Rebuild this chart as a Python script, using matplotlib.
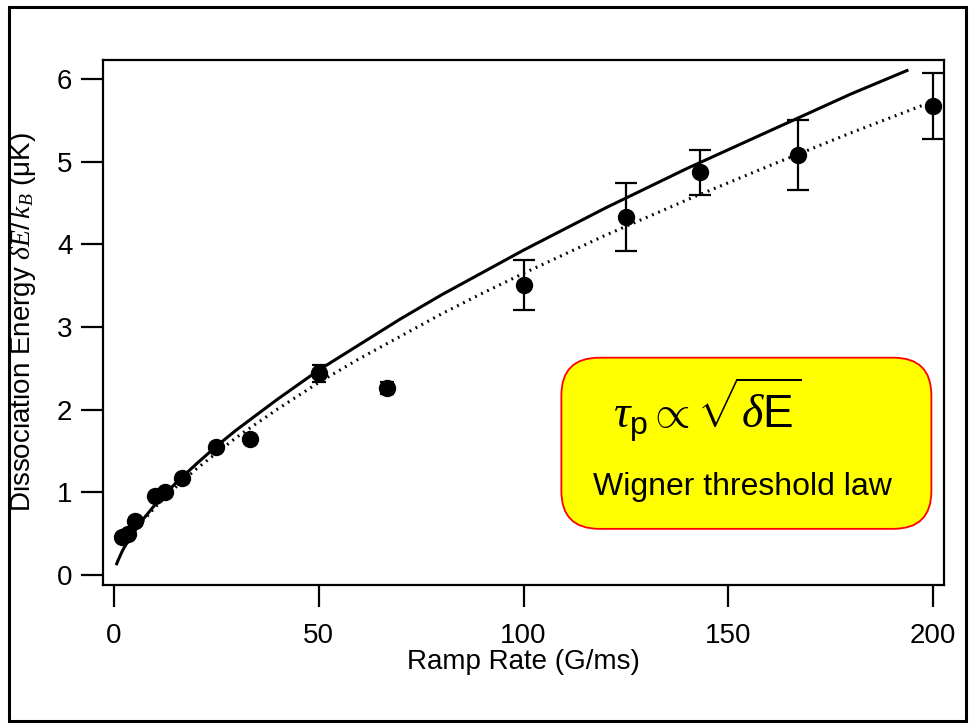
import matplotlib.pyplot as plt
from matplotlib.patches import FancyBboxPatch, Rectangle
import numpy as np

plt.rcParams['font.family'] = ['Liberation Sans', 'DejaVu Sans']
plt.rcParams['mathtext.fontset'] = 'custom'
plt.rcParams['mathtext.rm'] = 'Liberation Sans'
plt.rcParams['mathtext.sf'] = 'Liberation Sans'
plt.rcParams['mathtext.it'] = 'Liberation Serif:italic'
plt.rcParams['mathtext.bf'] = 'Liberation Sans:bold'

# measured dissociation energies
ramp = [2.0, 3.3, 5.0, 10.0, 12.5, 16.7, 25.0, 33.3, 50.0, 66.7, 100.0, 125.0, 143.0, 167.0, 200.0]
energy = [0.46, 0.50, 0.66, 0.96, 1.01, 1.18, 1.55, 1.65, 2.44, 2.26, 3.51, 4.33, 4.87, 5.08, 5.67]
err = [0.0, 0.0, 0.0, 0.0, 0.0, 0.0, 0.03, 0.03, 0.10, 0.07, 0.30, 0.41, 0.27, 0.42, 0.40]

# solid curve
solid_x = [0.5, 1, 2, 3, 5, 7, 10, 15, 20, 25, 30, 40, 50, 60, 70, 80, 90, 100, 120, 140, 160, 180, 194]
solid_y = [0.12, 0.18, 0.29, 0.38, 0.53, 0.67, 0.85, 1.11, 1.34, 1.56, 1.76, 2.13, 2.48, 2.79, 3.10, 3.39,
           3.66, 3.93, 4.44, 4.92, 5.37, 5.82, 6.11]

# dotted curve
dot_x = [7, 10, 15, 20, 30, 40, 50, 60, 70, 80, 90, 100, 120, 140, 160, 180, 200]
dot_y = [0.65, 0.82, 1.06, 1.28, 1.67, 2.01, 2.33, 2.62, 2.89, 3.16, 3.41, 3.65, 4.11, 4.54, 4.95, 5.35, 5.73]

fig = plt.figure(figsize=(9.69, 7.25), dpi=100)
ax = fig.add_axes([0.1063, 0.1931, 0.8679, 0.7241])

ax.plot(solid_x, solid_y, color='black', lw=2.2, solid_capstyle='butt', solid_joinstyle='round')
ax.plot(dot_x, dot_y, color='black', lw=2.2, linestyle=(0, (0.6, 1.6)))

ramp = np.array(ramp)
energy = np.array(energy)
err = np.array(err)
big = err > 0.2
ax.plot(ramp, energy, 'o', color='black', ms=11.5, zorder=5)
ax.errorbar(ramp[big], energy[big], yerr=err[big], fmt='none', ecolor='black',
            elinewidth=1.6, capsize=8, capthick=1.6, zorder=4)
ax.errorbar(ramp[~big], energy[~big], yerr=err[~big], fmt='none', ecolor='black',
            elinewidth=1.6, capsize=5, capthick=1.6, zorder=4)

ax.set_xlim(-2.7, 202.7)
ax.set_ylim(-0.12, 6.23)
ax.set_xticks([0, 50, 100, 150, 200])
ax.set_yticks([0, 1, 2, 3, 4, 5, 6])
ax.tick_params(axis='both', direction='out', length=16, width=1.6, labelsize=20)
ax.tick_params(axis='x', pad=11)
ax.tick_params(axis='y', pad=6)
for s in ax.spines.values():
    s.set_linewidth(1.6)

ax.set_xlabel('Ramp Rate (G/ms)', fontsize=20, labelpad=0)
ax.set_ylabel(r'Dissociation Energy $\delta E/\,k_B$ ($\mathrm{\mu}$K)', fontsize=20, labelpad=14)

# yellow annotation box
box = FancyBboxPatch((0.545, 0.107), 0.44, 0.326, boxstyle='round,pad=0,rounding_size=0.045',
                     transform=ax.transAxes, facecolor='#ffff00', edgecolor='#ff0000',
                     lw=1.3, mutation_aspect=1.6, zorder=6)
ax.add_patch(box)
ax.text(0.718, 0.333, r'$\tau_{\mathrm{p}} \propto \sqrt{\delta\mathrm{E}}$', transform=ax.transAxes,
        fontsize=33, ha='center', va='center', zorder=7)
ax.text(0.76, 0.187, 'Wigner threshold law', transform=ax.transAxes,
        fontsize=23, ha='center', va='center', zorder=7)

# outer frame
fig.patches.append(Rectangle((0.009, 0.006), 0.988, 0.985, transform=fig.transFigure,
                             fill=False, edgecolor='black', lw=2.2))

fig.savefig('out.png', dpi=100)
